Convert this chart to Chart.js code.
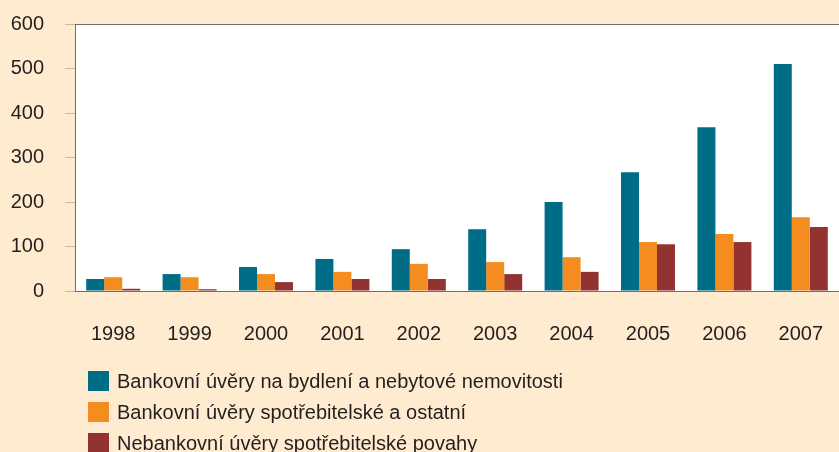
<!DOCTYPE html>
<html>
<head>
<meta charset="utf-8">
<script src="https://cdn.jsdelivr.net/npm/chart.js@4/dist/chart.umd.min.js"></script>
<style>
  html, body { margin: 0; padding: 0; background: #ffebd0; }
  #wrap { position: relative; width: 839px; height: 452px; }
</style>
</head>
<body>
<div id="wrap"><canvas id="chart"></canvas></div>
<script>
const years = ["1998", "1999", "2000", "2001", "2002", "2003", "2004", "2005", "2006", "2007"];
const seriesNames = [
  "Bankovní úvěry na bydlení a nebytové nemovitosti",
  "Bankovní úvěry spotřebitelské a ostatní",
  "Nebankovní úvěry spotřebitelské povahy"
];
const housingLoans = [27, 38, 54, 72, 94, 139, 200, 267, 368, 510];
const consumerLoans = [31, 31, 38, 43, 61, 65, 76, 110, 128, 166];
const nonBankLoans = [5, 4, 20, 27, 27, 38, 43, 105, 110, 144];
const yTicks = [0, 100, 200, 300, 400, 500, 600];

const colors = ["#006d87", "#f58c1f", "#933331"];
const textColor = "#231f20";
const fontFamily = "'Liberation Sans', Arial, sans-serif";

// white plot area + top frame line + legend list under the axis
const frame = {
  id: "frame",
  beforeDraw(chart) {
    const { ctx, chartArea: a } = chart;
    ctx.save();
    ctx.fillStyle = "#ffffff";
    ctx.fillRect(a.left, a.top, a.right - a.left, a.bottom - a.top);
    ctx.restore();
  },
  afterDraw(chart) {
    const { ctx, chartArea: a } = chart;
    ctx.save();
    ctx.strokeStyle = "#6f6f6f";
    ctx.lineWidth = 1;
    ctx.beginPath();
    ctx.moveTo(a.left, a.top + 0.5);
    ctx.lineTo(chart.width, a.top + 0.5);
    ctx.stroke();

    ctx.font = "20px " + fontFamily;
    ctx.textBaseline = "middle";
    chart.data.datasets.forEach((ds, i) => {
      const y = 371 + i * 31;
      ctx.fillStyle = ds.backgroundColor;
      ctx.fillRect(88, y, 21, 20);
      ctx.fillStyle = textColor;
      ctx.fillText(ds.label, 117, y + 11);
    });
    ctx.restore();
  }
};

new Chart(document.getElementById("chart"), {
  type: "bar",
  data: {
    labels: years,
    datasets: [
      { label: seriesNames[0], data: housingLoans, backgroundColor: colors[0] },
      { label: seriesNames[1], data: consumerLoans, backgroundColor: colors[1] },
      { label: seriesNames[2], data: nonBankLoans, backgroundColor: colors[2] }
    ]
  },
  options: {
    responsive: true,
    maintainAspectRatio: false,
    animation: false,
    layout: { padding: { top: 24, right: 0, left: 0, bottom: 0 } },
    datasets: {
      bar: { barPercentage: 1, categoryPercentage: 0.707 }
    },
    plugins: {
      legend: { display: false },
      tooltip: { enabled: false }
    },
    scales: {
      x: {
        grid: { display: false, drawTicks: false },
        border: { color: "#6f6f6f", width: 1 },
        ticks: { color: textColor, font: { family: fontFamily, size: 20 }, padding: 31 },
        afterFit(scale) {
          scale.height = 452 - 291;
          scale.paddingLeft = 0;
          scale.paddingRight = 0;
        }
      },
      y: {
        min: 0,
        max: 600,
        afterBuildTicks(scale) { scale.ticks = yTicks.map(v => ({ value: v })); },
        grid: { drawOnChartArea: false, drawTicks: true, tickLength: 10, tickColor: "#cbb89d" },
        border: { color: "#6f6f6f", width: 1 },
        ticks: { color: textColor, font: { family: fontFamily, size: 20 }, padding: 21 },
        afterFit(scale) {
          scale.width = 75;
          scale.paddingTop = 0;
          scale.paddingBottom = 0;
        }
      }
    }
  },
  plugins: [frame]
});
</script>
</body>
</html>
